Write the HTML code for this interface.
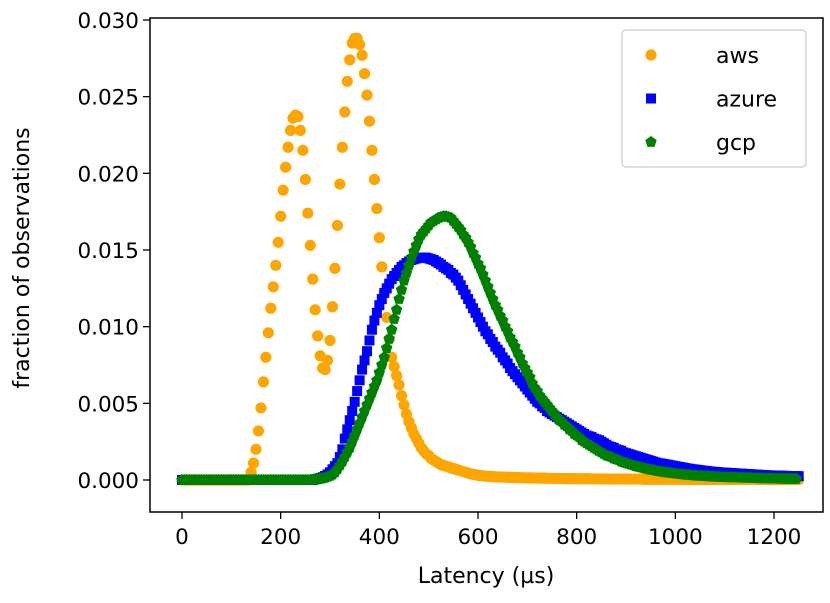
<!DOCTYPE html>
<html><head><meta charset="utf-8"><style>
body{margin:0;background:#fff;}
svg text{font-family:"DejaVu Sans","Liberation Sans",sans-serif;fill:#000;}
</style></head><body>
<svg id="chart" width="830" height="598" xmlns="http://www.w3.org/2000/svg">
<g id="marks"></g>
<g id="axes"></g>
</svg>
<script>
const xTicks=[0,200,400,600,800,1000,1200];
const yTicks=[0,0.005,0.010,0.015,0.020,0.025,0.030];
const yTickLabels=["0.000","0.005","0.010","0.015","0.020","0.025","0.030"];
const latencyStep=5; // µs between observations, starting at 0
// values in units of 1e-4 (fraction of observations)
const awsValues=[0,0,0,0,0,0,0,0,0,0, 0,0,0,0,0,0,0,0,0,0, 0,0,0,0,0,0,0,0,
5,11,20,32,47,64,80,96,112,126,140,155,172,189,204,217,228,236,238,237,228,215,196,174,153,131,111,94,81,73,72,78,91,113,138,166,193,217,240,260,274,285,288,288,284,277,265,251,234,215,196,177,158,139,122,106,92,80,74,68,62,55,49,43,38,34,30,27,24,21,19,17,16,14,13,12,11,10,9.5,9,8.5,8,7.5,7,6.5,6,5.5,5,4.5,4,3.7,3.4,3.1,2.9,2.7,
2.5,2.4,2.3,2.2,2.1,2.0,2.0,1.9,1.8,1.8,
1.7,1.7,1.6,1.6,1.5,1.5,1.4,1.4,1.4,1.3,
1.3,1.3,1.2,1.2,1.2,1.1,1.1,1.1,1.0,1.0,
1.0,1.0,0.9,0.9,0.9,0.9,0.9,0.8,0.8,0.8,
0.8,0.8,0.8,0.7,0.7,0.7,0.7,0.7,0.7,0.7,
0.6,0.6,0.6,0.6,0.6,0.6,0.6,0.6,0.6,0.6,
0.6,0.6,0.6,0.6,0.5,0.5,0.5,0.5,0.5,0.5,
0.5,0.5,0.5,0.5,0.5,0.5,0.5,0.5,0.5,0.5,
0.5,0.5,0.4,0.4,0.4,0.4,0.4,0.4,0.4,0.4,
0.4,0.4,0.4,0.4,0.4,0.4,0.4,0.4,0.4,0.4,
0.4,0.4,0.4,0.4,0.4,0.4,0.4,0.4,0.4,0.4,
0.3,0.3,0.3,0.3,0.3,0.3,0.3,0.3,0.3,0.3,
0.3,0.3,0.3,0.3,0.3,0.3,0.3,0.3];
const azureValues=[0,0,0,0,0,0,0,0,0,0, 0,0,0,0,0,0,0,0,0,0, 0,0,0,0,0,0,0,0,0,0, 0,0,0,0,0,0,0,0,0,0, 0,0,0,0,0,0,0,0,0,0, 0,0,0,0,
0.5,0.8,1.2,1.8,2.6,3.6,5,7,9,11,15,20,27,33,39,45,51,58,65,72,78,84,91,98,104,109,114,118,122,125,128,131,133,135,137,139,140,141.5,142.5,143.5,144,144.5,145,145,145,145,144.5,144,143.5,142.5,141.5,140.5,139,138,137,135,134,132,130,127,124,121,118,115,112,109,106,103,100,97,95,92,90,87,85,83,80,78,76,73,71,69,67,65,63,61,59,57,55,53,51,50,48,47,45,44,43,42,41,40,39,38,37,36,35,34,33,32,31,30,29,28.5,28,27,26.5,26,25,24,23,22,21.5,21,20,19.5,19,18,17.5,17,16.5,16,15.5,15,14.5,14,13.5,13,12.5,12,11.5,11,10.8,10.5,10.2,10,9.6,9.3,9,8.7,8.4,8.1,7.8,7.5,7.3,7,6.8,6.6,6.4,6.2,6,5.8,5.6,5.4,5.3,5.2,5.0,4.9,4.8,4.7,4.6,4.5,4.4,4.3,4.2,4.1,4.0,3.9,3.8,3.7,3.6,3.5,3.4,3.3,3.2,3.1,3.0,3.0,2.9,2.9,2.8,2.8,2.7,2.7,2.6,2.6,2.5,2.5,2.5];
const gcpValues=[0,0,0,0,0,0,0,0,0,0, 0,0,0,0,0,0,0,0,0,0, 0,0,0,0,0,0,0,0,0,0, 0,0,0,0,0,0,0,0,0,0, 0,0,0,0,0,0,0,0,0,0, 0,0,0,0,
0.3,0.5,0.8,1.1,1.5,2,2.6,3.5,5,7,9.5,12,15,18,21,25,29,33,37,41,45,49,53,57,61,65,70,75,80,86,92,98,105,111,118,124,130,135,140,145,149,153,157,160,162,164,166,168,169,170,171,171.5,172,172,171.5,171,169,167,165,163,160,158,155,152,148,145,141,138,134,130,126,122,118,114,111,107,104,100,97,93,90,87,83,80,76,73,70,67,63,60,58,55,53,51,49,47,45,43,41,39,38,36,35,33,32,30,29,28,26,25,24,23,22,21,20,19,18,17,16,15.5,15,14,13.5,13,12,11.5,11,10.5,10,9.5,9,8.6,8.2,7.8,7.4,7,6.7,6.4,6.1,5.8,5.5,5.2,5,4.8,4.6,4.4,4.2,4,3.8,3.6,3.4,3.3,3.2,3.0,2.9,2.8,2.7,2.6,2.5,2.4,2.3,2.2,2.1,2.0,1.95,1.9,1.85,1.8,1.75,1.7,1.65,1.6,1.55,1.5,1.45,1.4,1.35,1.3,1.25,1.2,1.15,1.1,1.05,1.0,1.0,0.95,0.9,0.9,0.85,0.8,0.8,0.75,0.75,0.7,0.7,0.7];
const seriesNames=["aws","azure","gcp"];
const seriesColors=["#ffa500","#0000ff","#008000"];

const NS="http://www.w3.org/2000/svg";
const L=150,R=823,T=18,B=512;
function xs(v){return 182+v*(774-182)/1200;}
function ys(v){return 480-v*(480-20)/0.030;}
function mk(tag,attrs,parent){const e=document.createElementNS(NS,tag);for(const k in attrs)e.setAttribute(k,attrs[k]);parent.appendChild(e);return e;}
const marks=document.getElementById('marks'),axes=document.getElementById('axes');

function marker(type,cx,cy,color,parent){
  let e;
  if(type===0){e=mk('circle',{cx:cx,cy:cy,r:5.6,fill:color},parent);}
  else if(type===1){e=mk('rect',{x:cx-5,y:cy-5,width:10,height:10,fill:color},parent);}
  else{let p=[];for(let k=0;k<5;k++){const a=-Math.PI/2+k*2*Math.PI/5;p.push((cx+6*Math.cos(a)).toFixed(1)+','+(cy+6*Math.sin(a)).toFixed(1));}
    e=mk('polygon',{points:p.join(' '),fill:color},parent);}
  return e;
}
const allSeries=[awsValues,azureValues,gcpValues];
allSeries.forEach((vals,s)=>{
  const g=mk('g',{},marks);
  
  
  vals.forEach((v,i)=>{
    const m=marker(s,xs(i*latencyStep),ys(v*1e-4),seriesColors[s],g);
    
    
  });
});

const frame=mk('rect',{x:L,y:T,width:R-L,height:B-T,fill:'none',stroke:'#000','stroke-width':1.5},axes);


xTicks.forEach(t=>{
  const x=xs(t);
  const l=mk('line',{x1:x,y1:B,x2:x,y2:B+7,stroke:'#000','stroke-width':1.3},axes);
  
  
  const tx=mk('text',{x:x,y:B+32,'text-anchor':'middle','font-size':21.5},axes);
  tx.textContent=t;
  
  
});
yTicks.forEach((t,i)=>{
  const y=ys(t);
  const l=mk('line',{x1:L-7,y1:y,x2:L,y2:y,stroke:'#000','stroke-width':1.3},axes);
  
  
  const tx=mk('text',{x:L-11,y:y+8,'text-anchor':'end','font-size':21.5},axes);
  tx.textContent=yTickLabels[i];
  
  
});
const xl=mk('text',{x:486,y:583,'text-anchor':'middle','font-size':22},axes);
xl.textContent='Latency (µs)';


const yl=mk('text',{x:0,y:0,'text-anchor':'middle','font-size':22,transform:'translate(29,258) rotate(-90)'},axes);
yl.textContent='fraction of observations';



const lg=mk('g',{},axes);


mk('rect',{x:622,y:30,width:184,height:137,rx:4,fill:'#fff','fill-opacity':0.85,stroke:'#ccc','stroke-width':1.2},lg);
seriesNames.forEach((n,s)=>{
  const cy=55+s*43.5;
  const e=mk('g',{},lg);
  
  
  marker(s,651,cy,seriesColors[s],e);
  const t=mk('text',{x:716,y:cy+8,'font-size':22},e);
  t.textContent=n;
});
</script>
</body></html>
